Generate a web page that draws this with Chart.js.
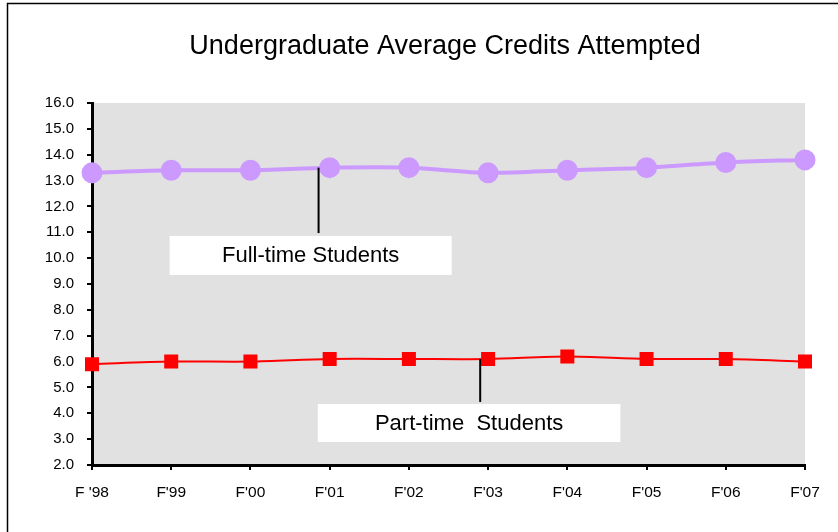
<!DOCTYPE html>
<html>
<head>
<meta charset="utf-8">
<script src="https://cdn.jsdelivr.net/npm/chart.js@4"></script>
<style>
  html, body { margin: 0; padding: 0; background: #fff; }
  #wrap { width: 838px; height: 532px; }
</style>
</head>
<body>
<div id="wrap"><canvas id="creditsChart"></canvas></div>
<script>
// data
const terms = ["F '98", "F'99", "F'00", "F'01", "F'02", "F'03", "F'04", "F'05", "F'06", "F'07"];
const fullTime = [13.3, 13.4, 13.4, 13.5, 13.5, 13.3, 13.4, 13.5, 13.7, 13.8];
const partTime = [5.9, 6.0, 6.0, 6.1, 6.1, 6.1, 6.2, 6.1, 6.1, 6.0];
const chartTitle = 'Undergraduate Average Credits Attempted';

const FONT = "'Liberation Sans', Arial, sans-serif";

// callout boxes, in data units (x = category index, y = credits)
const callouts = [
  { text: 'Full-time Students', x0: 0.98, x1: 4.54, y0: 10.86, y1: 9.35, lx: 2.86, ly0: 10.97, ly1: 13.5 },
  { text: 'Part-time  Students', x0: 2.85, x1: 6.67, y0: 4.36, y1: 2.89, lx: 4.9, ly0: 4.44, ly1: 6.1 }
];

const decorPlugin = {
  id: 'decor',
  beforeDraw(chart) {
    const { ctx, chartArea: a } = chart;
    ctx.save();
    ctx.fillStyle = '#e1e1e1';
    ctx.fillRect(a.left, a.top, a.right - a.left, a.bottom - a.top);
    // outer frame
    ctx.strokeStyle = '#000';
    ctx.lineWidth = 1.5;
    ctx.beginPath();
    ctx.moveTo(7.5, chart.height);
    ctx.lineTo(7.5, 3.5);
    ctx.lineTo(chart.width, 3.5);
    ctx.stroke();
    // title, centred like the original over the page
    ctx.fillStyle = '#000';
    ctx.font = '27px ' + FONT;
    ctx.textAlign = 'center';
    ctx.textBaseline = 'middle';
    ctx.fillText(chartTitle, 445, 47);
    ctx.restore();
  },
  afterDatasetsDraw(chart) {
    const { ctx, scales: { x, y } } = chart;
    ctx.save();
    callouts.forEach(c => {
      const l = x.getPixelForValue(c.x0), r = x.getPixelForValue(c.x1);
      const t = y.getPixelForValue(c.y0), b = y.getPixelForValue(c.y1);
      ctx.fillStyle = '#fff';
      ctx.fillRect(l, t, r - l, b - t);
      ctx.strokeStyle = '#000';
      ctx.lineWidth = 2;
      ctx.beginPath();
      ctx.moveTo(x.getPixelForValue(c.lx), y.getPixelForValue(c.ly0));
      ctx.lineTo(x.getPixelForValue(c.lx), y.getPixelForValue(c.ly1));
      ctx.stroke();
      ctx.fillStyle = '#000';
      ctx.font = '22px ' + FONT;
      ctx.textAlign = 'center';
      ctx.textBaseline = 'middle';
      ctx.fillText(c.text, (l + r) / 2, (t + b) / 2 + 1);
    });
    ctx.restore();
  }
};

new Chart(document.getElementById('creditsChart'), {
  type: 'line',
  data: {
    labels: terms,
    datasets: [{
      label: 'Full-time Students',
      data: fullTime,
      borderColor: '#cc99ff',
      backgroundColor: '#cc99ff',
      borderWidth: 4,
      pointRadius: 8.5,
      pointHoverRadius: 8.5,
      pointStyle: 'circle',
      tension: 0.3
    }, {
      label: 'Part-time Students',
      data: partTime,
      borderColor: '#ff0000',
      backgroundColor: '#ff0000',
      borderWidth: 2,
      pointRadius: 8.5,
      pointHoverRadius: 8.5,
      pointStyle: 'rect',
      tension: 0.3
    }]
  },
  options: {
    responsive: true,
    maintainAspectRatio: false,
    animation: false,
    layout: { padding: { left: 0, right: 33, top: 103, bottom: 0 } },
    plugins: {
      legend: { display: false },
      tooltip: { enabled: false },
      title: { display: false }
    },
    scales: {
      x: {
        offset: false,
        afterFit(s) { s.height = 67; },
        border: { color: '#000', width: 3 },
        grid: { display: true, drawOnChartArea: false, drawTicks: true, tickLength: 5, color: '#000', lineWidth: 2 },
        ticks: { color: '#000', font: { family: FONT, size: 15.5 }, padding: 13, maxRotation: 0, autoSkip: false }
      },
      y: {
        min: 2, max: 16,
        afterFit(s) { s.width = 92; },
        border: { color: '#000', width: 3 },
        grid: { display: true, drawOnChartArea: false, drawTicks: true, tickLength: 5, color: '#000', lineWidth: 2 },
        ticks: {
          stepSize: 1, color: '#000', padding: 13,
          font: { family: FONT, size: 15 },
          callback: v => v.toFixed(1)
        }
      }
    }
  },
  plugins: [decorPlugin]
});
</script>
</body>
</html>
